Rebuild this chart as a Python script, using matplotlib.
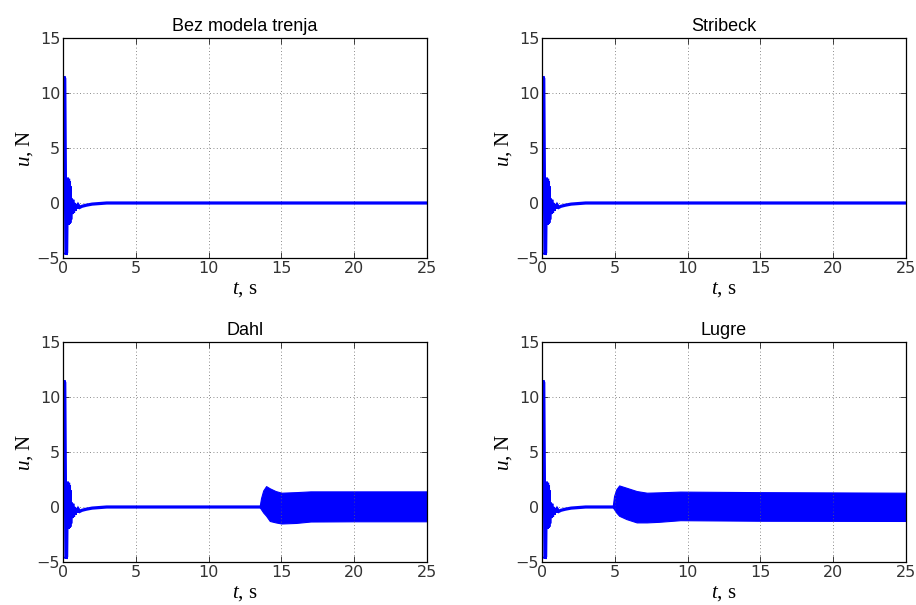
import matplotlib
matplotlib.use("Agg")
import matplotlib.pyplot as plt
import numpy as np

# ---- data ----
titles = ["Bez modela trenja", "Stribeck", "Dahl", "Lugre"]

# common start-up transient (s, N)
t_start = [0.0, 0.06, 0.12, 0.2, 0.25, 0.3, 0.34, 0.38, 0.41, 0.44, 0.47, 0.5, 0.53,
           0.57, 0.62, 0.67, 0.72, 0.78, 0.84, 0.9, 0.97, 1.05, 1.15, 1.3, 1.6,
           2.0, 2.5, 3.0, 25.0]
u_start = [0.0, 11.5, 11.3, -4.7, -4.5, 2.3, -2.0, 2.2, -1.9, 2.0, -1.8, 1.5, -1.5,
           0.4, -1.0, 0.3, -0.9, 0.0, -0.7, -0.1, -0.5, -0.2, -0.4, -0.3, -0.2,
           -0.1, -0.05, 0.0, 0.0]

# envelope of the friction-induced oscillation band (Dahl)
t_dahl = [13.5, 13.6, 13.75, 13.95, 14.2, 14.6, 15.0, 16.0, 17.0, 20.0, 25.0]
up_dahl = [0.0, 0.8, 1.5, 1.9, 1.7, 1.45, 1.3, 1.35, 1.42, 1.42, 1.42]
lo_dahl = [0.0, -0.2, -0.5, -0.8, -1.27, -1.4, -1.5, -1.45, -1.32, -1.3, -1.3]

# envelope of the oscillation band (Lugre)
t_lugre = [4.85, 4.95, 5.1, 5.3, 5.8, 6.5, 7.2, 8.0, 9.5, 15.0, 25.0]
up_lugre = [0.0, 1.0, 1.6, 1.96, 1.75, 1.45, 1.3, 1.33, 1.4, 1.35, 1.3]
lo_lugre = [0.0, -0.2, -0.5, -0.8, -1.1, -1.4, -1.4, -1.35, -1.2, -1.25, -1.27]

bands = [None, None, (t_dahl, up_dahl, lo_dahl), (t_lugre, up_lugre, lo_lugre)]

x_ticks = [0, 5, 10, 15, 20, 25]
y_ticks = [-5, 0, 5, 10, 15]

# ---- figure ----
plt.rcParams['mathtext.fontset'] = 'custom'
plt.rcParams['mathtext.it'] = 'Liberation Serif:italic'
plt.rcParams['mathtext.rm'] = 'Liberation Serif'

fig = plt.figure(figsize=(9.16, 6.05), dpi=100)
W, H = 916, 605
lefts = [63, 542]
tops = [38, 342]
aw, ah = 364, 220
blue = '#0000ff'

for i in range(4):
    r, c = divmod(i, 2)
    l = lefts[c]
    tp = tops[r]
    ax = fig.add_axes([l / W, 1 - (tp + ah) / H, aw / W, ah / H])
    ax.plot(t_start, u_start, color=blue, lw=2.3, solid_joinstyle='miter')
    if bands[i] is not None:
        tb, ub, lb = bands[i]
        ax.fill_between(tb, ub, lb, color=blue, lw=0.8, edgecolor=blue)
    ax.set_xlim(0, 25)
    ax.set_ylim(-5, 15)
    ax.set_xticks(x_ticks)
    ax.set_yticks(y_ticks)
    ax.set_xticklabels([str(v) for v in x_ticks], family='DejaVu Sans', fontsize=11.5)
    ax.set_yticklabels([('\u2212' + str(-v)) if v < 0 else str(v) for v in y_ticks],
                       family='DejaVu Sans', fontsize=11.5)
    ax.tick_params(direction='in', top=True, right=True, length=4, width=0.6,
                   pad=2, colors='#222222', labelcolor='#333333')
    ax.grid(True, linestyle=(0, (1, 3)), color='#666666', linewidth=0.6)
    for sp in ax.spines.values():
        sp.set_linewidth(0.9)
    ax.set_title(titles[i], family='Liberation Sans', fontsize=13, pad=5)
    ax.set_xlabel(r'$t$, s', family='Liberation Serif', fontsize=15, labelpad=3)
    ax.set_ylabel(r'$u$, N', family='Liberation Serif', fontsize=15, labelpad=1)

fig.savefig('out.png', dpi=100)
